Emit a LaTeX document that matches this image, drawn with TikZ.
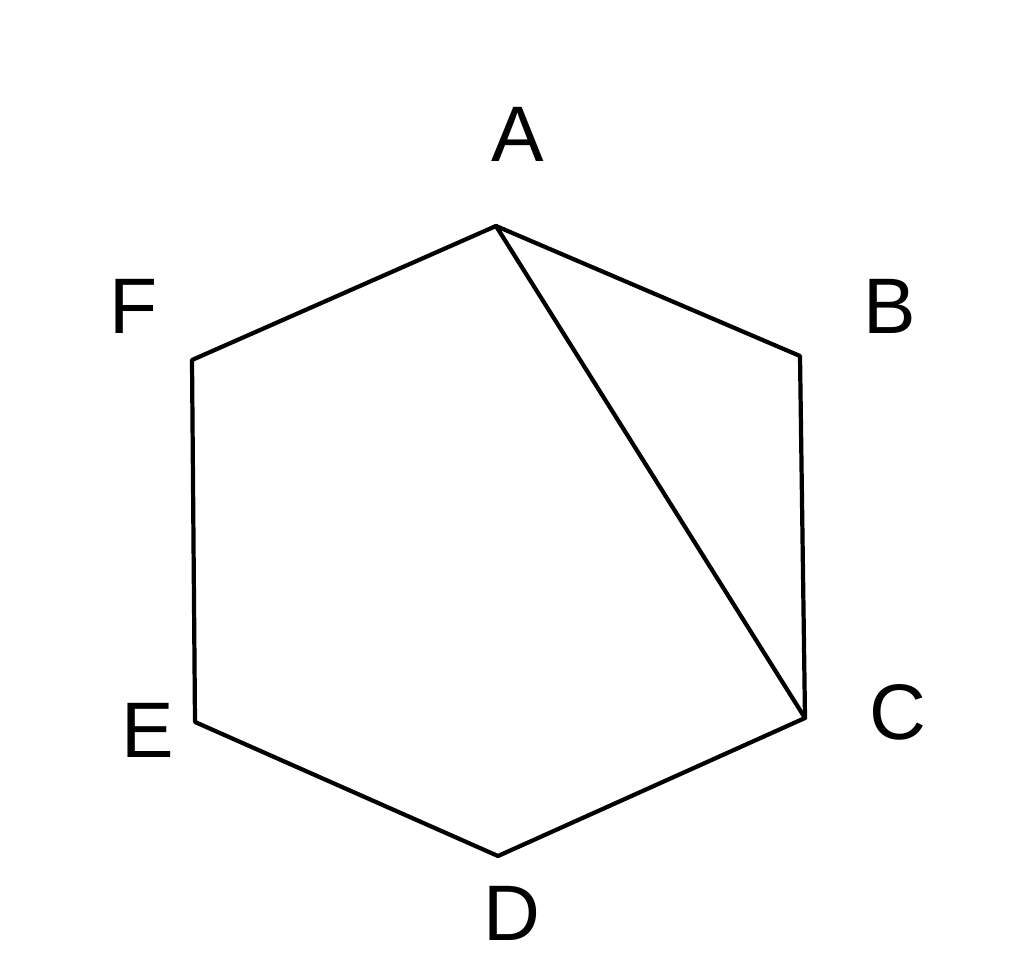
\documentclass[tikz,border=0pt]{standalone}
\usepackage{fontspec}
\setmainfont{Liberation Sans}
\begin{document}
\begin{tikzpicture}[x=0.025cm,y=-0.025cm,
    side/.style={line width=3pt,line join=round,line cap=round},
    vlabel/.style={inner sep=0pt,font=\fontsize{56}{66}\selectfont}]
        \useasboundingbox (0,0) rectangle (1024,965);

        \coordinate (A) at (496,226);
        \coordinate (B) at (800,356);
        \coordinate (C) at (805,718);
        \coordinate (D) at (498,856);
        \coordinate (E) at (195,722);
        \coordinate (F) at (192,360);

        \draw [side] (A) -- (B) -- (C) -- (D) -- (E) -- (F) -- cycle;
        \draw [side] (A) -- (C);

        \node [vlabel] (lA) at (518,134) {A};
        \node [vlabel] (lB) at (890,306) {B};
        \node [vlabel] (lC) at (898,712) {C};
        \node [vlabel] (lD) at (512,913) {D};
        \node [vlabel] (lE) at (148,730) {E};
        \node [vlabel] (lF) at (134,306) {F};
    \end{tikzpicture}
\end{document}
